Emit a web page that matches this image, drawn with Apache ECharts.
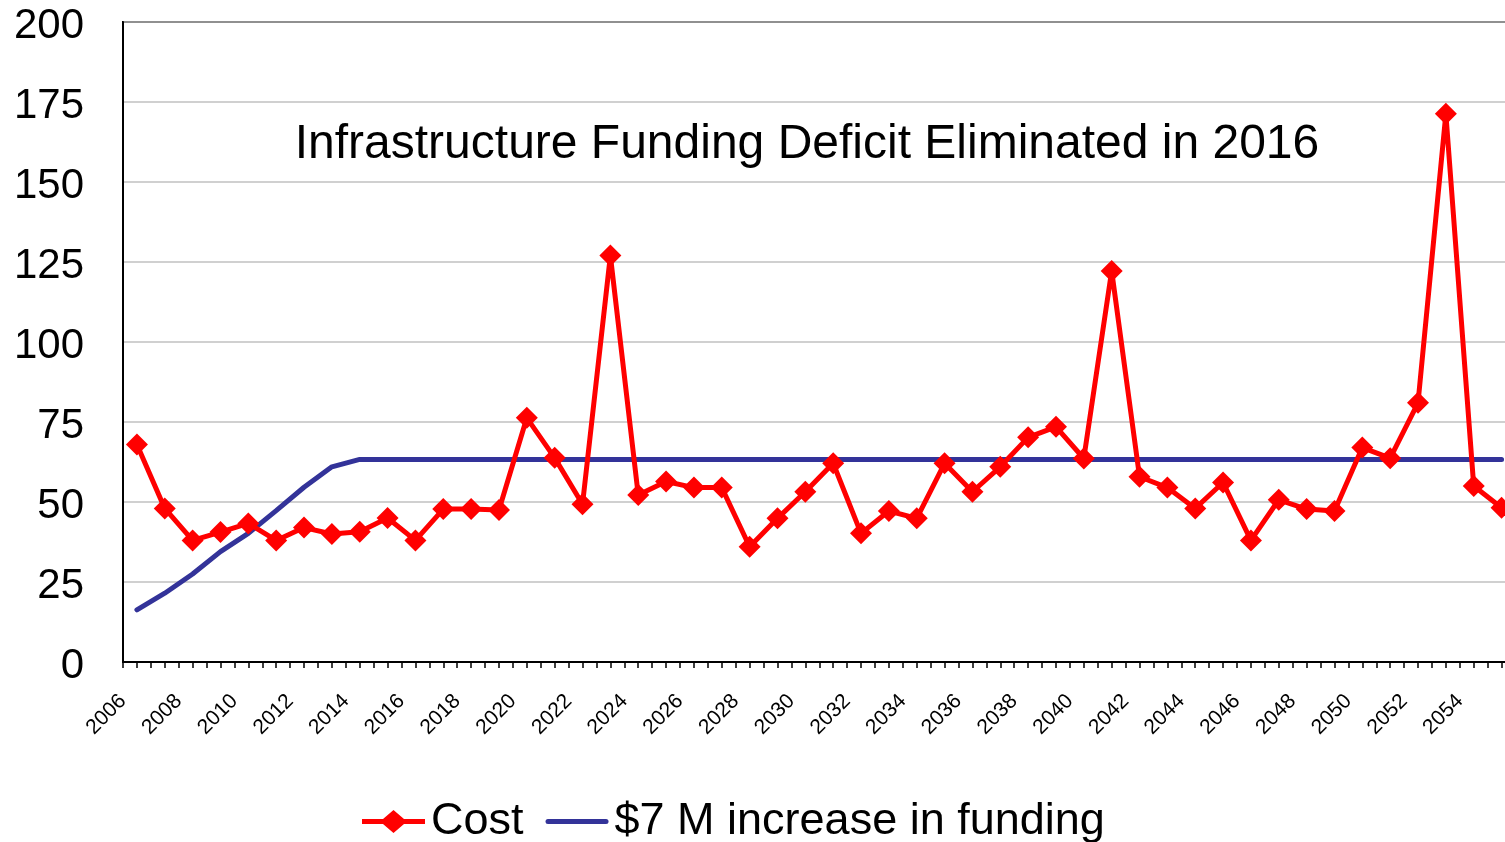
<!DOCTYPE html>
<html>
<head>
<meta charset="utf-8">
<script src="https://cdn.jsdelivr.net/npm/echarts@6/dist/echarts.min.js"></script>
<style>
  html, body { margin: 0; padding: 0; background: #fff; }
  #main { width: 1505px; height: 842px; }
</style>
</head>
<body>
<div id="main"></div>
<script>
var years = [2006, 2007, 2008, 2009, 2010, 2011, 2012, 2013, 2014, 2015,
             2016, 2017, 2018, 2019, 2020, 2021, 2022, 2023, 2024, 2025,
             2026, 2027, 2028, 2029, 2030, 2031, 2032, 2033, 2034, 2035,
             2036, 2037, 2038, 2039, 2040, 2041, 2042, 2043, 2044, 2045,
             2046, 2047, 2048, 2049, 2050, 2051, 2052, 2053, 2054, 2055];
var cost = [68, 48, 38, 40.6, 43.3, 38, 42, 40, 40.7, 45,
            38, 47.8, 47.8, 47.5, 76.3, 63.8, 49.3, 127, 52.2, 56.4,
            54.5, 54.5, 36, 44.9, 53.2, 62.1, 40.2, 47.2, 44.9, 62.1,
            53.2, 61, 70.2, 73.5, 63.6, 122.2, 57.9, 54.5, 48, 56.1,
            38, 50.7, 47.8, 47.2, 67, 63.7, 81, 171.3, 55, 48.2];
var funding = [16.3, 21.5, 27.5, 34.5, 40.2, 47.3, 54.6, 61, 63.3, 63.3,
               63.3, 63.3, 63.3, 63.3, 63.3, 63.3, 63.3, 63.3, 63.3, 63.3,
               63.3, 63.3, 63.3, 63.3, 63.3, 63.3, 63.3, 63.3, 63.3, 63.3,
               63.3, 63.3, 63.3, 63.3, 63.3, 63.3, 63.3, 63.3, 63.3, 63.3,
               63.3, 63.3, 63.3, 63.3, 63.3, 63.3, 63.3, 63.3, 63.3, 63.3];
var yTicks = [0, 25, 50, 75, 100, 125, 150, 175, 200];
var seriesNames = ['Cost', '$7 M increase in funding'];
var note = 'Infrastructure Funding Deficit Eliminated in 2016';

var font = 'Liberation Sans, Arial, sans-serif';

function pairs(vals) {
  return years.map(function (y, i) { return [y, vals[i]]; });
}

var myChart = echarts.init(document.getElementById('main'));
var option = {
  animation: false,
  backgroundColor: '#fff',
  grid: {
    left: 123, top: 22, right: -10.5, bottom: 180,
    outerBoundsMode: 'none',
    containLabel: false,
    show: true, borderColor: '#000', borderWidth: 2,
    backgroundColor: 'transparent'
  },
  graphic: [{
    type: 'text',
    x: 807, y: 145,
    style: {
      text: note, font: '48px ' + font, fill: '#000',
      textAlign: 'center', textVerticalAlign: 'middle'
    }
  }],
  legend: {
    left: 357, top: 794,
    itemWidth: 63, itemHeight: 23, itemGap: 22,
    textStyle: { fontSize: 45, fontFamily: font, color: '#000', padding: [0, 0, 0, 1] },
    data: [
      { name: seriesNames[0], icon: 'path://M0,9 H21 L31.5,0 L42,9 H63 V14 H42 L31.5,23 L21,14 H0 Z' },
      { name: seriesNames[1], icon: 'path://M2.5,0 H60.5 A2.5,2.5 0 0 1 60.5,5 H2.5 A2.5,2.5 0 0 1 2.5,0 Z' }
    ]
  },
  xAxis: {
    type: 'value',
    min: 2005.5, max: 2055.5, interval: 0.5,
    axisLine: { lineStyle: { color: '#000', width: 2 } },
    axisTick: { length: 6, lineStyle: { color: '#000', width: 1.5 } },
    splitLine: { show: false },
    axisLabel: {
      rotate: 45, margin: 36, fontSize: 21, fontFamily: font, color: '#000',
      showMinLabel: true, showMaxLabel: true,
      formatter: function (v) {
        var y = v + 0.5;
        return (y % 2 === 0 && y <= years[years.length - 2]) ? String(y) : '';
      }
    }
  },
  yAxis: {
    type: 'value',
    min: yTicks[0], max: yTicks[yTicks.length - 1], interval: 25,
    axisLine: { show: true, lineStyle: { color: '#000', width: 2 } },
    axisTick: { show: false },
    splitLine: { lineStyle: { color: '#C0C0C0', width: 1.5 } },
    axisLabel: {
      margin: 39, color: '#000',
      formatter: function (v) { return '{v|' + v + '}'; },
      rich: { v: { fontSize: 42, fontFamily: font, color: '#000', padding: [8, 0, 0, 0] } }
    }
  },
  series: [
    {
      name: seriesNames[0],
      type: 'line',
      data: pairs(cost),
      symbol: 'diamond',
      symbolSize: 22,
      color: '#FF0000',
      lineStyle: { color: '#FF0000', width: 5 },
      itemStyle: { color: '#FF0000' },
      z: 3
    },
    {
      name: seriesNames[1],
      type: 'line',
      data: pairs(funding),
      symbol: 'none',
      showSymbol: false,
      color: '#333399',
      lineStyle: { color: '#333399', width: 5, cap: 'round' },
      z: 2
    }
  ]
};
myChart.setOption(option);
</script>
</body>
</html>
